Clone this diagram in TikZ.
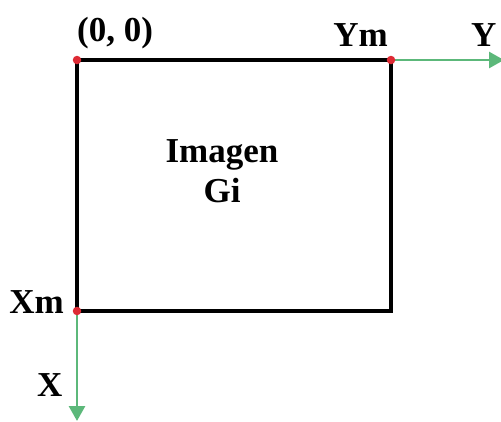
\documentclass[tikz,border=0pt]{standalone}
\usepackage{fontspec}
\setmainfont{Liberation Serif}
\usetikzlibrary{arrows.meta}
\definecolor{axisgreen}{RGB}{92,184,122}
\definecolor{cornerred}{RGB}{222,42,52}
\begin{document}
\begin{tikzpicture}[x=1pt,y=-1pt,
  lbl/.style={inner sep=0pt,font=\fontsize{35}{40}\selectfont\bfseries},
  axis/.style={draw=axisgreen,line width=2.8pt,-{Triangle[length=15pt,width=16pt]}},
  frame/.style={draw=black,line width=4pt},
  dot/.style={circle,fill=cornerred,inner sep=0pt,minimum size=8.5pt}]
\useasboundingbox (0,0) rectangle (501,421);
% corner points of the image
\coordinate (o) at (77,60);
\coordinate (ym) at (391,60);
\coordinate (xm) at (77,311);
\coordinate (br) at (391,311);
\coordinate (yend) at (504,60);
\coordinate (xend) at (77,421);
% axes
\draw[axis] (ym) -- (yend);
\draw[axis] (xm) -- (xend);
% image frame
\draw[frame] (o) -- (ym) -- (br) -- (xm) -- cycle;
% corner markers
\node[dot] (po) at (o) {};
\node[dot] (pym) at (ym) {};
\node[dot] (pxm) at (xm) {};
% labels
\node[lbl,anchor=base west] (t00) at (77,41) {(0, 0)};
\node[lbl,anchor=base east] (tym) at (388,46) {Ym};
\node[lbl,anchor=base west] (ty) at (471,46) {Y};
\node[lbl,anchor=base east] (txm) at (64,313) {Xm};
\node[lbl,anchor=base west] (tx) at (37,396) {X};
\node[lbl,anchor=base] (timg) at (222,162) {Imagen};
\node[lbl,anchor=base] (tgi) at (222,202) {Gi};
\end{tikzpicture}
\end{document}
